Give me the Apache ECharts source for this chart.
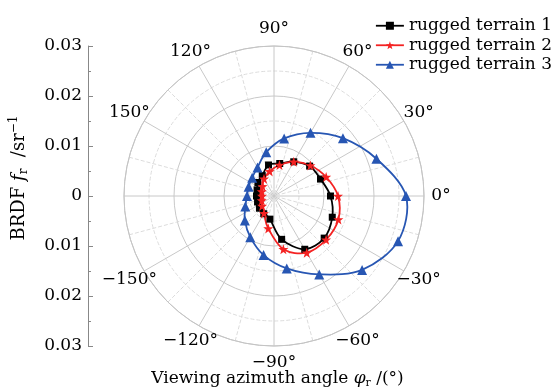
<!DOCTYPE html>
<html>
<head>
<meta charset="utf-8">
<script src="https://cdn.jsdelivr.net/npm/echarts@6/dist/echarts.min.js"></script>
<style>
  html, body { margin: 0; padding: 0; background: #fff; }
  #chart { width: 555px; height: 388px; }
</style>
</head>
<body>
<div id="chart"></div>
<script>
// azimuth angles (deg) and BRDF values
const angles = [0, 20, 40, 60, 80, 100, 120, 140, 160, 180, 200, 220, 240, 260, 280, 300, 320, 340];
const terrain1 = [0.0113, 0.0099, 0.0093, 0.0079, 0.0066, 0.0063, 0.0047, 0.0042, 0.0036, 0.0035, 0.0035, 0.0038, 0.0041, 0.0047, 0.0088, 0.0123, 0.0131, 0.0124];
const terrain2 = [0.0128, 0.0111, 0.0095, 0.0079, 0.0063, 0.0050, 0.0040, 0.0030, 0.0026, 0.0024, 0.0026, 0.0031, 0.0040, 0.0066, 0.0108, 0.0131, 0.0136, 0.0137];
const terrain3 = [0.0264, 0.0218, 0.0180, 0.0146, 0.0117, 0.0089, 0.0066, 0.0057, 0.0054, 0.0054, 0.0061, 0.0076, 0.0095, 0.0120, 0.0147, 0.0181, 0.0230, 0.0264];
const names = ["rugged terrain 1", "rugged terrain 2", "rugged terrain 3"];
const colors = ["#000000", "#f42222", "#2756b3"];
// angle tick labels (180 is left blank in the original)
const angleTicks = [0, 30, 60, 90, 120, 150, 210, 240, 270, 300, 330];
const angleTickText = ["0°", "30°", "60°", "90°", "120°", "150°", "−150°", "−120°", "−90°", "−60°", "−30°"];

const FONT = "DejaVu Serif";
const LABEL_R = 0.0334; // radius at which the angle labels are centred

function points(vals) {
  let d = [];
  for (let i in angles) {
    d.push([vals[i], angles[i]]);
  }
  return d;
}

// closed smooth curve through the data points (Catmull-Rom, in pixel space)
function curve(vals, color) {
  return function(params, api) {
    if (params.dataIndex !== 0) return null;
    let p = [];
    for (let i in angles) {
      p.push(api.coord([vals[i], angles[i]]));
    }
    let n = p.length;
    let kids = [];
    for (let i = 0; i < n; i++) {
      let p0 = p[(i - 1 + n) % n], p1 = p[i], p2 = p[(i + 1) % n], p3 = p[(i + 2) % n];
      kids.push({
        type: "bezierCurve",
        shape: {
          x1: p1[0], y1: p1[1],
          cpx1: p1[0] + (p2[0] - p0[0]) / 6, cpy1: p1[1] + (p2[1] - p0[1]) / 6,
          cpx2: p2[0] - (p3[0] - p1[0]) / 6, cpy2: p2[1] - (p3[1] - p1[1]) / 6,
          x2: p2[0], y2: p2[1]
        },
        style: { stroke: color, lineWidth: 1.8, fill: null }
      });
    }
    return { type: "group", children: kids };
  };
}

// angle tick labels, centred on a circle just outside the plot
function angleLabel(params, api) {
  let i = params.dataIndex;
  let p = api.coord([LABEL_R, angleTicks[i]]);
  return {
    type: "text",
    x: p[0],
    y: p[1],
    style: {
      text: angleTickText[i],
      fontFamily: FONT,
      fontSize: 17,
      fill: "#000",
      align: "center",
      verticalAlign: "middle"
    }
  };
}

const symbols = [
  "rect",
  "path://M0,-10 L2.35,-3.24 L9.51,-3.09 L3.8,1.24 L5.88,8.09 L0,4 L-5.88,8.09 L-3.8,1.24 L-9.51,-3.09 L-2.35,-3.24 Z",
  "triangle"
];
const symbolSizes = [7, 10, 10];
const values = [terrain1, terrain2, terrain3];

let series = [];
for (let k = 0; k < 3; k++) {
  series.push({
    name: "curve" + k,
    type: "custom",
    coordinateSystem: "polar",
    renderItem: curve(values[k], colors[k]),
    data: points(values[k]),
    silent: true,
    z: 2
  });
}
for (let k = 0; k < 3; k++) {
  series.push({
    name: names[k],
    type: "line",
    coordinateSystem: "polar",
    data: points(values[k]),
    symbol: symbols[k],
    symbolSize: symbolSizes[k],
    itemStyle: { color: colors[k] },
    lineStyle: { color: colors[k], width: 1.8, opacity: 0 },
    z: 3 + k
  });
}
series.push({
  name: "angle labels",
  type: "custom",
  coordinateSystem: "polar",
  renderItem: angleLabel,
  data: angleTicks.map(a => [LABEL_R, a]),
  silent: true,
  clip: false,
  z: 1
});

const chart = echarts.init(document.getElementById("chart"));
chart.setOption({
  animation: false,
  title: {
    text: "{a|Viewing azimuth angle }{i|φ}{s|r}{a| /(°)}",
    left: "center",
    top: 364,
    textStyle: {
      fontWeight: "normal",
      rich: {
        a: { fontFamily: FONT, fontSize: 17, fontWeight: "normal", color: "#000", lineHeight: 20 },
        i: { fontFamily: FONT, fontSize: 17, fontWeight: "normal", fontStyle: "italic", color: "#000", lineHeight: 20 },
        s: { fontFamily: FONT, fontSize: 11, fontWeight: "normal", color: "#000", lineHeight: 8, verticalAlign: "bottom" }
      }
    }
  },
  legend: {
    orient: "vertical",
    left: 375,
    top: 16,
    padding: 0,
    itemWidth: 28,
    itemHeight: 10,
    itemGap: 0,
    data: names.map((n, k) => ({ name: n, lineStyle: { color: colors[k], width: 1.8, opacity: 1 } })),
    textStyle: { fontFamily: FONT, fontSize: 17, color: "#000", lineHeight: 19.5 }
  },
  grid: { left: 88, top: 46, width: 1, height: 300 },
  xAxis: { type: "value", show: false },
  yAxis: {
    type: "value",
    min: -0.03,
    max: 0.03,
    interval: 0.01,
    name: "{a|BRDF }{i|f}{s|r}{a|  /sr}{p|−1}",
    nameLocation: "middle",
    nameRotate: 90,
    nameGap: 58,
    nameTextStyle: {
      padding: [0, 0, 0, 36],
      rich: {
        a: { fontFamily: FONT, fontSize: 18, color: "#000", lineHeight: 22 },
        i: { fontFamily: FONT, fontSize: 18, fontStyle: "italic", color: "#000", lineHeight: 22 },
        s: { fontFamily: FONT, fontSize: 12, color: "#000", lineHeight: 10, verticalAlign: "bottom" },
        p: { fontFamily: FONT, fontSize: 12, color: "#000", lineHeight: 10, verticalAlign: "top" }
      }
    },
    axisLine: { show: true, lineStyle: { color: "#888", width: 1 } },
    axisTick: { show: true, inside: true, length: 5, lineStyle: { color: "#888" } },
    minorTick: { show: true, splitNumber: 2, length: 3, lineStyle: { color: "#888" } },
    splitLine: { show: false },
    axisLabel: {
      fontFamily: FONT,
      fontSize: 17,
      color: "#000",
      margin: 6,
      formatter: function(v) {
        if (Math.abs(v) < 1e-9) return "0";
        return Math.abs(v).toFixed(2);
      }
    }
  },
  polar: { center: [274, 196], radius: 150 },
  angleAxis: {
    type: "value",
    min: 0,
    max: 360,
    interval: 30,
    startAngle: 0,
    clockwise: false,
    axisLine: { show: true, lineStyle: { color: "#c4c4c4", width: 1 } },
    axisTick: { show: false },
    axisLabel: { show: false },
    minorTick: { show: false, splitNumber: 2 },
    minorSplitLine: { show: true, lineStyle: { color: "#dcdcdc", type: "dashed", width: 1 } },
    splitLine: { show: true, lineStyle: { color: "#c8c8c8", width: 1 } }
  },
  radiusAxis: {
    type: "value",
    min: 0,
    max: 0.03,
    interval: 0.01,
    axisLine: { show: false },
    axisTick: { show: false },
    axisLabel: { show: false },
    minorTick: { show: false, splitNumber: 2 },
    minorSplitLine: { show: true, lineStyle: { color: "#dcdcdc", type: "dashed", width: 1 } },
    splitLine: { show: true, lineStyle: { color: "#c8c8c8", width: 1 } }
  },
  series: series
});
</script>
</body>
</html>
